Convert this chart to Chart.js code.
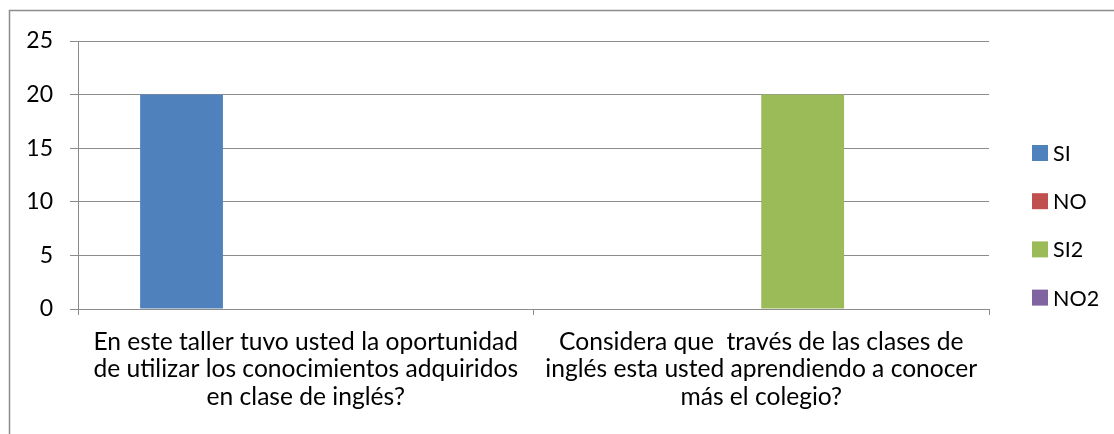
<!DOCTYPE html>
<html>
<head>
<meta charset="utf-8">
<script src="https://cdn.jsdelivr.net/npm/chart.js@4"></script>
<style>
html,body{margin:0;padding:0;background:#fff;}
#wrap{width:1114px;height:434px;position:relative;}
</style>
</head>
<body>
<div id="wrap"><canvas id="c" width="1114" height="434"></canvas></div>
<script>
const categories = [
  ["En este taller tuvo usted la oportunidad", "de utilizar los conocimientos adquiridos", "en clase de inglés?"],
  ["Considera que  través de las clases de", "inglés esta usted aprendiendo a conocer", "más el colegio?"]
];
const seriesNames = ["SI", "NO", "SI2", "NO2"];
const SI = [20, 0];
const NO = [0, 0];
const SI2 = [0, 20];
const NO2 = [0, 0];
const yTicks = [0, 5, 10, 15, 20, 25];
const colors = ["#4F81BD", "#C0504D", "#9BBB59", "#8064A2"];

const FONT = "Lato, 'Open Sans', sans-serif";
const GRID = "#8C8C8C";

const borderPlugin = {
  id: 'outerBorder',
  afterDraw(chart) {
    const ctx = chart.ctx;
    ctx.save();
    ctx.strokeStyle = GRID;
    ctx.lineWidth = 1.5;
    ctx.strokeRect(9.5, 10.5, 1200, 1200);
    ctx.restore();
  }
};

const legendPlugin = {
  id: 'customLegend',
  afterDraw(chart) {
    const ctx = chart.ctx;
    ctx.save();
    ctx.font = "21.5px " + FONT;
    ctx.textBaseline = 'middle';
    chart.data.datasets.forEach((ds, i) => {
      const cy = 153 + i * 48.2;
      ctx.fillStyle = ds.backgroundColor;
      ctx.fillRect(1032, cy - 8, 16, 16);
      ctx.fillStyle = '#000';
      ctx.fillText(ds.label, 1053, cy + 1);
    });
    ctx.restore();
  }
};

const datasets = [SI, NO, SI2, NO2].map((d, i) => ({
  label: seriesNames[i],
  data: d,
  backgroundColor: colors[i],
  borderWidth: 0,
  categoryPercentage: 4 / 5.5,
  barPercentage: 1.0
}));

new Chart(document.getElementById('c'), {
  type: 'bar',
  data: { labels: categories, datasets },
  options: {
    responsive: false,
    animation: false,
    devicePixelRatio: 1,
    layout: { padding: { top: 41, right: 125, left: 0, bottom: 0 } },
    plugins: { legend: { display: false }, tooltip: { enabled: false } },
    scales: {
      x: {
        offset: true,
        grid: { offset: true, drawOnChartArea: false, drawTicks: true, tickLength: 6, color: GRID, lineWidth: 1 },
        border: { display: true, color: GRID, width: 1 },
        ticks: { color: '#000', font: { family: FONT, size: 24.6, lineHeight: '27.5px' }, padding: 13, maxRotation: 0, autoSkip: false },
        afterFit(s) { s.height = 434 - 309; }
      },
      y: {
        min: 0, max: 25,
        afterBuildTicks(s) { s.ticks = yTicks.map(v => ({ value: v })); },
        grid: { color: GRID, lineWidth: 1, tickLength: 8, drawTicks: true },
        border: { display: true, color: GRID, width: 1 },
        ticks: { color: '#000', font: { family: FONT, size: 23 }, padding: 17 },
        afterFit(s) { s.width = 78; }
      }
    }
  },
  plugins: [borderPlugin, legendPlugin]
});
</script>
</body>
</html>
